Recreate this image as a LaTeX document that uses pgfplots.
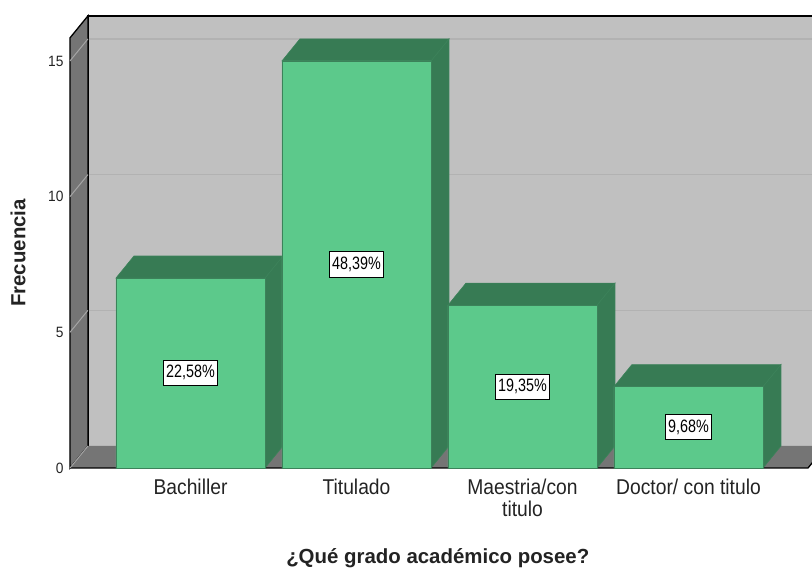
\documentclass[border=0pt]{standalone}
\usepackage{pgfplots}
\pgfplotsset{compat=1.18}
\usepackage{fontspec}
\setmainfont{Liberation Sans}
\newfontfamily\lblfont{Liberation Sans}[FakeStretch=0.8]
\newfontfamily\catfont{Liberation Sans}[FakeStretch=0.9]
\newfontfamily\tickfont{Liberation Sans}[FakeStretch=0.92]
\definecolor{barfront}{RGB}{92,201,139}
\definecolor{bardark}{RGB}{55,123,84}
\definecolor{barline}{RGB}{60,130,90}
\definecolor{wallback}{RGB}{192,192,192}
\definecolor{wallside}{RGB}{117,117,117}
\definecolor{gridback}{RGB}{178,178,178}
\definecolor{gridside}{RGB}{165,165,165}
\definecolor{txt}{RGB}{35,35,35}
\begin{document}
\begin{tikzpicture}
\useasboundingbox (0,0) rectangle (812bp,568bp);
\begin{axis}[
  at={(68bp,98bp)}, anchor=south west,
  scale only axis, width=744bp, height=456bp,
  xmin=-0.738, xmax=3.744, ymin=-0.074, ymax=16.73,
  axis x line*=bottom, axis y line*=left,
  axis line style={draw=none}, major tick length=0pt,
  /pgf/number format/assume math mode=true,
  ytick={0,5,10,15},
  yticklabel style={font=\tickfont\fontsize{15}{17}\selectfont, text=txt, xshift=-1bp},
  xtick={0,1,2,3},
  xticklabels={Bachiller,Titulado,{Maestria/con\\titulo},Doctor/ con titulo},
  xticklabel style={font=\catfont\fontsize{21.5}{23}\selectfont, text=txt, align=center, yshift=-5bp},
  xlabel={¿Qué grado académico posee?},
  xlabel style={font=\bfseries\fontsize{20.5}{24}\selectfont, text=txt, at={(axis description cs:0.497,-0.204)}, anchor=base},
  ylabel={Frecuencia},
  ylabel style={font=\bfseries\fontsize{20.5}{24}\selectfont, text=txt, at={(axis description cs:-0.0672,0.476)}, anchor=center, rotate=0},
  clip=true,
]
% back wall
\addplot[fill=wallback, draw=none] coordinates {(-0.618,0.811)(4.2,0.811)(4.2,16.66)(-0.618,16.66)} -- cycle;
% gridlines on back wall
\addplot[gridback, line width=1.2bp] coordinates {(-0.618,5.811)(4.2,5.811)};
\addplot[gridback, line width=1.2bp] coordinates {(-0.618,10.811)(4.2,10.811)};
\addplot[gridback, line width=1.2bp] coordinates {(-0.618,15.811)(4.2,15.811)};
% back wall top and left border
\addplot[black, line width=1.3bp] coordinates {(4.2,16.66)(-0.618,16.66)(-0.618,0.811)};
% left wall
\addplot[fill=wallside, draw=black, line width=1.3bp] coordinates {(-0.726,0)(-0.726,15.85)(-0.618,16.66)(-0.618,0.811)} -- cycle;
% floor
\addplot[fill=wallside, draw=none] coordinates {(-0.726,0)(-0.618,0.811)(3.828,0.811)(3.72,0)} -- cycle;
\addplot[black, line width=1.3bp] coordinates {(-0.726,0)(3.72,0)(3.828,0.811)};
% gridlines on left wall
\addplot[gridside, line width=1bp] coordinates {(-0.726,0)(-0.618,0.811)};
\addplot[gridside, line width=1bp] coordinates {(-0.726,5)(-0.618,5.811)};
\addplot[gridside, line width=1bp] coordinates {(-0.726,10)(-0.618,10.811)};
\addplot[gridside, line width=1bp] coordinates {(-0.726,15)(-0.618,15.811)};
% bar sides and tops
\addplot[fill=bardark, draw=barline, line width=0.6bp] coordinates {(0.449,0)(0.449,7)(0.557,7.811)(0.557,0.811)} -- cycle;
\addplot[fill=bardark, draw=barline, line width=0.6bp] coordinates {(-0.449,7)(0.449,7)(0.557,7.811)(-0.341,7.811)} -- cycle;
\addplot[fill=bardark, draw=barline, line width=0.6bp] coordinates {(1.449,0)(1.449,15)(1.557,15.811)(1.557,0.811)} -- cycle;
\addplot[fill=bardark, draw=barline, line width=0.6bp] coordinates {(0.551,15)(1.449,15)(1.557,15.811)(0.659,15.811)} -- cycle;
\addplot[fill=bardark, draw=barline, line width=0.6bp] coordinates {(2.449,0)(2.449,6)(2.557,6.811)(2.557,0.811)} -- cycle;
\addplot[fill=bardark, draw=barline, line width=0.6bp] coordinates {(1.551,6)(2.449,6)(2.557,6.811)(1.659,6.811)} -- cycle;
\addplot[fill=bardark, draw=barline, line width=0.6bp] coordinates {(3.449,0)(3.449,3)(3.557,3.811)(3.557,0.811)} -- cycle;
\addplot[fill=bardark, draw=barline, line width=0.6bp] coordinates {(2.551,3)(3.449,3)(3.557,3.811)(2.659,3.811)} -- cycle;
% bar fronts
\addplot[ybar, bar width=0.898, fill=barfront, draw=barline, line width=0.6bp] coordinates {(0,7)(1,15)(2,6)(3,3)};
% percentage labels
\addplot[draw=none, mark=none, nodes near coords, point meta=explicit symbolic,
  nodes near coords align=center,
  every node near coord/.style={anchor=center, fill=white, draw=black, line width=0.9bp, inner xsep=2.7bp, inner ysep=4.2bp, text height=13.3bp, text depth=3.5bp, font=\lblfont\fontsize{18}{20}\selectfont, text=black}]
  table[meta=lab, row sep=\\] {x y lab\\ 0 3.5 {22,58\%}\\ 1 7.5 {48,39\%}\\ 2 3.0 {19,35\%}\\ 3 1.5 {9,68\%}\\};
\end{axis}
\end{tikzpicture}
\end{document}
